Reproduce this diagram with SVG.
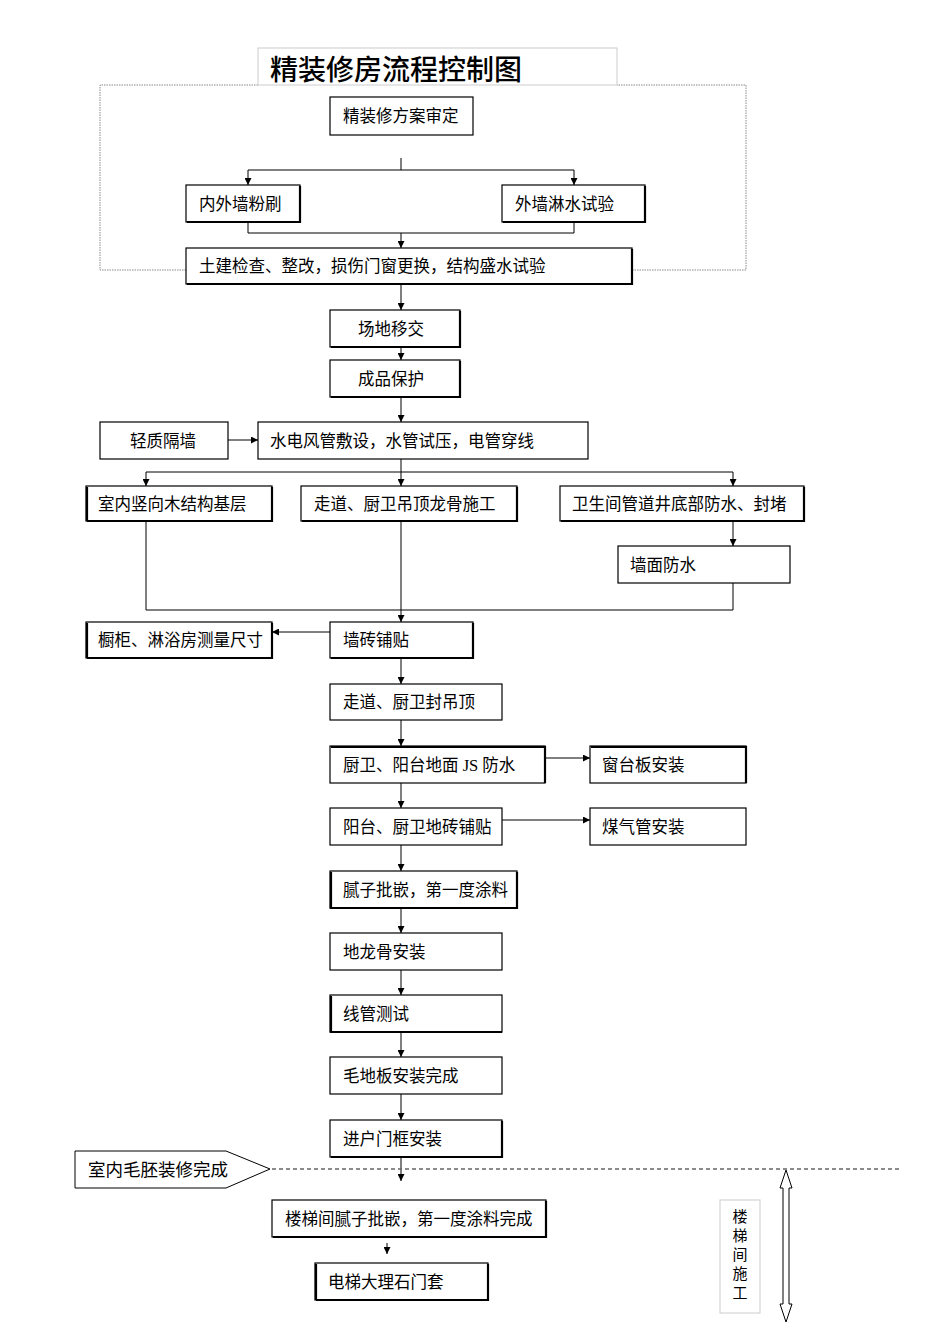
<svg xmlns="http://www.w3.org/2000/svg" width="950" height="1344" viewBox="0 0 950 1344">
<style>
.b{fill:#fff;stroke:#000;stroke-width:1.2}
.s{fill:none;stroke:#000;stroke-width:2.2}
.t{font-family:"Liberation Serif","Noto Sans CJK SC",serif;font-size:16.5px;fill:#000}
.l{fill:none;stroke:#000;stroke-width:1}
</style>
<defs>
<marker id="a" viewBox="0 0 10 10" refX="10" refY="5" markerWidth="7" markerHeight="7" orient="auto"><path d="M0,0 L10,5 L0,10z" fill="#000"/></marker>
</defs>
<rect width="950" height="1344" fill="#fff"/>
<g id="frame">
<path d="M258,85 H100 V270 H746 V85 H617" fill="none" stroke="#888" stroke-width="1" stroke-dasharray="1.5,1"/>
<rect x="258" y="48" width="359" height="37" fill="#fff" stroke="#ccc" stroke-width="1"/>
<text x="270" y="80" font-family="'Noto Sans CJK SC',sans-serif" font-size="28" font-weight="500">精装修房流程控制图</text>
</g>
<g id="connectors">
<path class="l" d="M401,158 V170 M248,170 H574"/>
<path class="l" d="M248,170 V185" marker-end="url(#a)"/>
<path class="l" d="M574,170 V185" marker-end="url(#a)"/>
<path class="l" d="M248,222 V233 H574 V222"/>
<path class="l" d="M401,233 V248" marker-end="url(#a)"/>
<path class="l" d="M401,284 V310" marker-end="url(#a)"/>
<path class="l" d="M401,347 V360" marker-end="url(#a)"/>
<path class="l" d="M401,397 V422" marker-end="url(#a)"/>
<path class="l" d="M228,440 H258" marker-end="url(#a)"/>
<path class="l" d="M401,459 V472 M146,472 H733"/>
<path class="l" d="M146,472 V486" marker-end="url(#a)"/>
<path class="l" d="M401,472 V486" marker-end="url(#a)"/>
<path class="l" d="M733,472 V486" marker-end="url(#a)"/>
<path class="l" d="M733,521 V546" marker-end="url(#a)"/>
<path class="l" d="M146,521 V610 H733 V583 M401,521 V610"/>
<path class="l" d="M401,610 V622" marker-end="url(#a)"/>
<path class="l" d="M330,632 H272" marker-end="url(#a)"/>
<path class="l" d="M401,658 V684" marker-end="url(#a)"/>
<path class="l" d="M401,720 V746" marker-end="url(#a)"/>
<path class="l" d="M545,758 H590" marker-end="url(#a)"/>
<path class="l" d="M401,783 V808" marker-end="url(#a)"/>
<path class="l" d="M502,820 H590" marker-end="url(#a)"/>
<path class="l" d="M401,845 V871" marker-end="url(#a)"/>
<path class="l" d="M401,908 V933" marker-end="url(#a)"/>
<path class="l" d="M401,970 V995" marker-end="url(#a)"/>
<path class="l" d="M401,1032 V1057" marker-end="url(#a)"/>
<path class="l" d="M401,1094 V1120" marker-end="url(#a)"/>
<path class="l" d="M401,1157 V1181" marker-end="url(#a)"/>
<path class="l" d="M387,1243 V1254" marker-end="url(#a)"/>
<path d="M272,1169 H900" stroke="#666" stroke-width="1.5" stroke-dasharray="4,3"/>
<path d="M786,1170 L792,1188 L789,1188 L789,1304 L792,1304 L786,1322 L780,1304 L783,1304 L783,1188 L780,1188 Z" fill="#fff" stroke="#000" stroke-width="1"/>
</g>
<g id="n1"><rect class="b" x="330" y="97" width="143" height="38"/><text class="t" x="343" y="122">精装修方案审定</text></g>
<g id="n2"><rect class="b" x="186" y="185" width="114" height="37"/><path class="s" d="M300,186 V222 H187"/><text class="t" x="199" y="210">内外墙粉刷</text></g>
<g id="n3"><rect class="b" x="502" y="185" width="143" height="37"/><path class="s" d="M645,186 V222 H503"/><text class="t" x="515" y="210">外墙淋水试验</text></g>
<g id="n4"><rect class="b" x="186" y="248" width="446" height="36" stroke-width="2"/><path class="s" d="M632,249 V284 H187"/><text class="t" x="199" y="272">土建检查、整改，损伤门窗更换，结构盛水试验</text></g>
<g id="n5"><rect class="b" x="330" y="310" width="130" height="37"/><path class="s" d="M460,311 V347 H331"/><text class="t" x="358" y="335">场地移交</text></g>
<g id="n6"><rect class="b" x="330" y="360" width="130" height="37"/><path class="s" d="M460,361 V397 H331"/><text class="t" x="358" y="385">成品保护</text></g>
<g id="n7"><rect class="b" x="100" y="422" width="128" height="37"/><text class="t" x="130" y="447">轻质隔墙</text></g>
<g id="n8"><rect class="b" x="258" y="422" width="330" height="37"/><text class="t" x="270" y="447">水电风管敷设，水管试压，电管穿线</text></g>
<g id="n9"><rect class="b" x="86" y="486" width="186" height="35"/><path class="s" d="M272,487 V521 H87 M87,487 V521"/><text class="t" x="98" y="510">室内竖向木结构基层</text></g>
<g id="n10"><rect class="b" x="301" y="486" width="216" height="35"/><path class="s" d="M517,487 V521 H302"/><text class="t" x="314" y="510">走道、厨卫吊顶龙骨施工</text></g>
<g id="n11"><rect class="b" x="560" y="486" width="244" height="35"/><path class="s" d="M804,487 V521 H561"/><text class="t" x="572" y="510">卫生间管道井底部防水、封堵</text></g>
<g id="n12"><rect class="b" x="618" y="546" width="172" height="37"/><text class="t" x="630" y="571">墙面防水</text></g>
<g id="n13"><rect class="b" x="330" y="622" width="143" height="36"/><path class="s" d="M473,623 V658 H331"/><text class="t" x="343" y="646">墙砖铺贴</text></g>
<g id="n14"><rect class="b" x="86" y="622" width="186" height="36"/><path class="s" d="M87,623 V658 M272,623 V658 H87"/><text class="t" x="98" y="646">橱柜、淋浴房测量尺寸</text></g>
<g id="n15"><rect class="b" x="330" y="684" width="172" height="36"/><text class="t" x="343" y="708">走道、厨卫封吊顶</text></g>
<g id="n16"><rect class="b" x="330" y="746" width="215" height="37"/><path class="s" d="M331,747 H545 V783"/><text class="t" x="343" y="771">厨卫、阳台地面 JS 防水</text></g>
<g id="n17"><rect class="b" x="590" y="746" width="156" height="37"/><path class="s" d="M591,747 H746 V783"/><text class="t" x="602" y="771">窗台板安装</text></g>
<g id="n18"><rect class="b" x="330" y="808" width="172" height="37"/><text class="t" x="343" y="833">阳台、厨卫地砖铺贴</text></g>
<g id="n19"><rect class="b" x="590" y="808" width="156" height="37"/><text class="t" x="602" y="833">煤气管安装</text></g>
<g id="n20"><rect class="b" x="330" y="871" width="187" height="37"/><path class="s" d="M331,872 V908 H517 V872"/><text class="t" x="343" y="896">腻子批嵌，第一度涂料</text></g>
<g id="n21"><rect class="b" x="330" y="933" width="172" height="37"/><text class="t" x="343" y="958">地龙骨安装</text></g>
<g id="n22"><rect class="b" x="330" y="995" width="172" height="37"/><path class="s" d="M331,996 V1032 H502"/><text class="t" x="343" y="1020">线管测试</text></g>
<g id="n23"><rect class="b" x="330" y="1057" width="172" height="37"/><text class="t" x="343" y="1082">毛地板安装完成</text></g>
<g id="n24"><rect class="b" x="330" y="1120" width="172" height="37"/><path class="s" d="M502,1121 V1157 H331"/><text class="t" x="343" y="1145">进户门框安装</text></g>
<g id="n25"><path d="M75,1151 H226 L270,1169 L226,1188 H75 Z" fill="#fff" stroke="#000" stroke-width="1"/><text x="88" y="1176" font-family="'Noto Sans CJK SC',sans-serif" font-size="17.5">室内毛胚装修完成</text></g>
<g id="n26"><rect class="b" x="272" y="1200" width="274" height="37"/><path class="s" d="M546,1201 V1237 H273"/><text class="t" x="285" y="1225">楼梯间腻子批嵌，第一度涂料完成</text></g>
<g id="n27"><rect class="b" x="315" y="1263" width="173" height="37"/><path class="s" d="M488,1264 V1300 H316 M316,1264 V1300"/><text class="t" x="328" y="1288">电梯大理石门套</text></g>
<g id="n28"><rect x="720" y="1200" width="40" height="113" fill="#fff" stroke="#ccc" stroke-width="1"/>
<text x="740" y="1222" text-anchor="middle" font-family="'Noto Sans CJK SC',sans-serif" font-size="15"><tspan x="740">楼</tspan><tspan x="740" dy="19">梯</tspan><tspan x="740" dy="19">间</tspan><tspan x="740" dy="19">施</tspan><tspan x="740" dy="19">工</tspan></text></g>
</svg>
